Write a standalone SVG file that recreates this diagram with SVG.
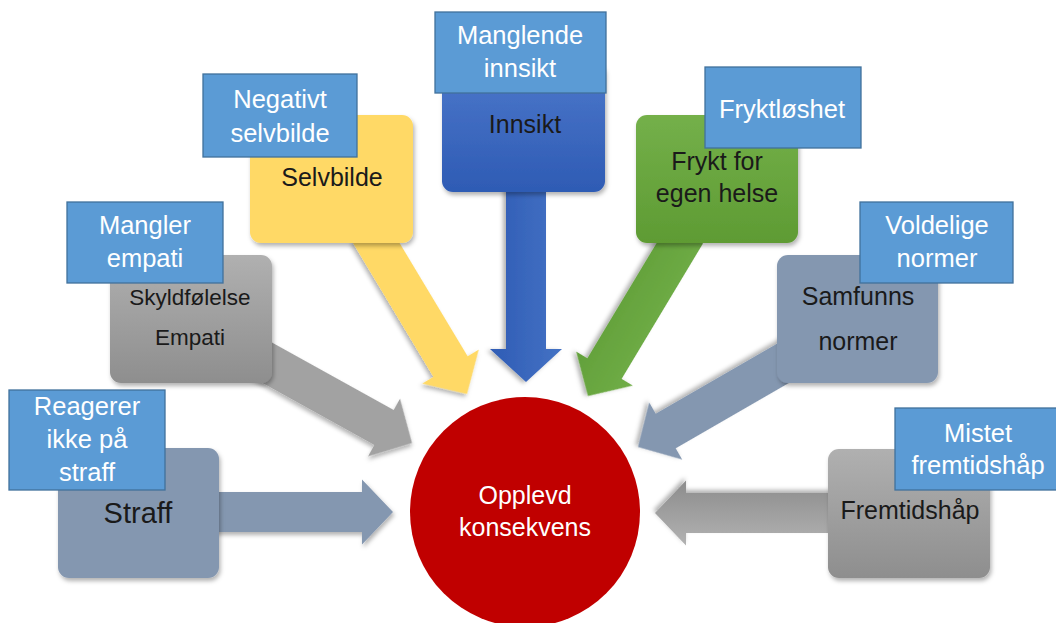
<svg xmlns="http://www.w3.org/2000/svg" width="1056" height="623" viewBox="0 0 1056 623">
<defs>
<filter id="sh" x="-20%" y="-20%" width="140%" height="140%">
<feDropShadow dx="1.5" dy="3" stdDeviation="2" flood-color="#000" flood-opacity="0.3"/>
</filter>
<linearGradient id="gGray" x1="0" y1="0" x2="0" y2="1"><stop offset="0" stop-color="#b0b0b0"/><stop offset="1" stop-color="#8e8e8e"/></linearGradient>
<linearGradient id="gBlue" x1="0" y1="0" x2="0" y2="1"><stop offset="0" stop-color="#4d78cb"/><stop offset="1" stop-color="#2e5bb4"/></linearGradient>
<linearGradient id="gGreen" x1="0" y1="0" x2="0" y2="1"><stop offset="0" stop-color="#74b04a"/><stop offset="1" stop-color="#5e9b33"/></linearGradient>
<linearGradient id="gGrayA" x1="0" y1="0" x2="0" y2="1"><stop offset="0" stop-color="#b2b2b2"/><stop offset="1" stop-color="#8c8c8c"/></linearGradient>
<linearGradient id="gBlueA" x1="0" y1="0" x2="0" y2="1"><stop offset="0" stop-color="#4472c4"/><stop offset="1" stop-color="#2f5cb5"/></linearGradient>
<linearGradient id="gGreenA" x1="0" y1="0" x2="0" y2="1"><stop offset="0" stop-color="#70ad47"/><stop offset="1" stop-color="#62a03a"/></linearGradient>
</defs>
<style>
text{font-family:"Liberation Sans",Arial,sans-serif;text-anchor:middle}
.lbl{fill:#5b9bd5;stroke:#41719c;stroke-width:1.3}
.lt{fill:#ffffff;font-size:25.5px}
.bt{fill:#1a1a1a;font-size:25px}
.box{filter:url(#sh)}
.arr{filter:url(#sh)}
</style>
<g id="connectors">
<path class="arr" fill="#8497b0" transform="translate(393,512)" d="M-245,-20 H-31 V-32.5 L0,0 L-31,32.5 V20 H-245 Z"/>
<path class="arr" fill="url(#gGrayA)" transform="translate(655,513) rotate(180)" d="M-245,-20 H-31 V-32.5 L0,0 L-31,32.5 V20 H-245 Z"/>
<path class="arr" fill="#a2a2a2" transform="translate(412,443) rotate(29)" d="M-210,-20 H-32 V-33 L0,0 L-32,33 V20 H-210 Z"/>
<path class="arr" fill="#ffd966" transform="translate(467,394) rotate(59)" d="M-190,-20 H-32 V-33 L0,0 L-32,33 V20 H-190 Z"/>
<path class="arr" fill="url(#gBlueA)" transform="translate(526,382) rotate(90)" d="M-232,-20 H-33 V-36 L0,0 L-33,36 V20 H-232 Z"/>
<path class="arr" fill="url(#gGreenA)" transform="translate(588,396) rotate(121)" d="M-190,-20 H-32 V-33 L0,0 L-32,33 V20 H-190 Z"/>
<path class="arr" fill="#8497b0" transform="translate(638,447) rotate(150)" d="M-190,-20 H-32 V-33 L0,0 L-32,33 V20 H-190 Z"/>
</g>
<g id="center">
<circle cx="525" cy="512" r="115" fill="#c00000"/>
<text x="525" y="504" fill="#ffffff" style="font-size:25px">Opplevd</text>
<text x="525" y="536" fill="#ffffff" style="font-size:25px">konsekvens</text>
</g>
<g id="straff">
<rect class="box" x="58" y="448" width="161" height="130" rx="11" fill="#8497b0"/>
<text class="bt" x="138" y="523" style="font-size:29px">Straff</text>
<rect class="lbl" x="9" y="390" width="156" height="100"/>
<text class="lt" x="87" y="415">Reagerer</text>
<text class="lt" x="87" y="448">ikke på</text>
<text class="lt" x="87" y="481">straff</text>
</g>
<g id="skyld">
<rect class="box" x="110" y="255" width="162" height="128" rx="11" fill="url(#gGray)"/>
<text class="bt" x="190" y="305" style="font-size:22.5px">Skyldfølelse</text>
<text class="bt" x="190" y="345" style="font-size:22.5px">Empati</text>
<rect class="lbl" x="67" y="202" width="156" height="81"/>
<text class="lt" x="145" y="234">Mangler</text>
<text class="lt" x="145" y="267">empati</text>
</g>
<g id="selvbilde">
<rect class="box" x="250" y="115" width="163" height="128" rx="11" fill="#ffd966"/>
<text class="bt" x="332" y="186">Selvbilde</text>
<rect class="lbl" x="203" y="74" width="154" height="83"/>
<text class="lt" x="280" y="108">Negativt</text>
<text class="lt" x="280" y="142">selvbilde</text>
</g>
<g id="innsikt">
<rect class="box" x="442" y="62" width="163" height="130" rx="11" fill="url(#gBlue)"/>
<text class="bt" x="525" y="133">Innsikt</text>
<rect class="lbl" x="435" y="12" width="171" height="81"/>
<text class="lt" x="520" y="44">Manglende</text>
<text class="lt" x="520" y="77">innsikt</text>
</g>
<g id="frykt">
<rect class="box" x="636" y="115" width="162" height="128" rx="11" fill="url(#gGreen)"/>
<text class="bt" x="717" y="170">Frykt for</text>
<text class="bt" x="717" y="202">egen helse</text>
<rect class="lbl" x="705" y="67" width="156" height="81"/>
<text class="lt" x="782" y="118">Fryktløshet</text>
</g>
<g id="samfunn">
<rect class="box" x="777" y="255" width="161" height="128" rx="11" fill="#8497b0"/>
<text class="bt" x="858" y="305">Samfunns</text>
<text class="bt" x="858" y="350">normer</text>
<rect class="lbl" x="860" y="202" width="153" height="81"/>
<text class="lt" x="937" y="234">Voldelige</text>
<text class="lt" x="937" y="267">normer</text>
</g>
<g id="fremtid">
<rect class="box" x="828" y="449" width="162" height="129" rx="11" fill="url(#gGray)"/>
<text class="bt" x="910" y="519">Fremtidshåp</text>
<rect class="lbl" x="895" y="408" width="162" height="82"/>
<text class="lt" x="978" y="442">Mistet</text>
<text class="lt" x="978" y="474">fremtidshåp</text>
</g>
</svg>
